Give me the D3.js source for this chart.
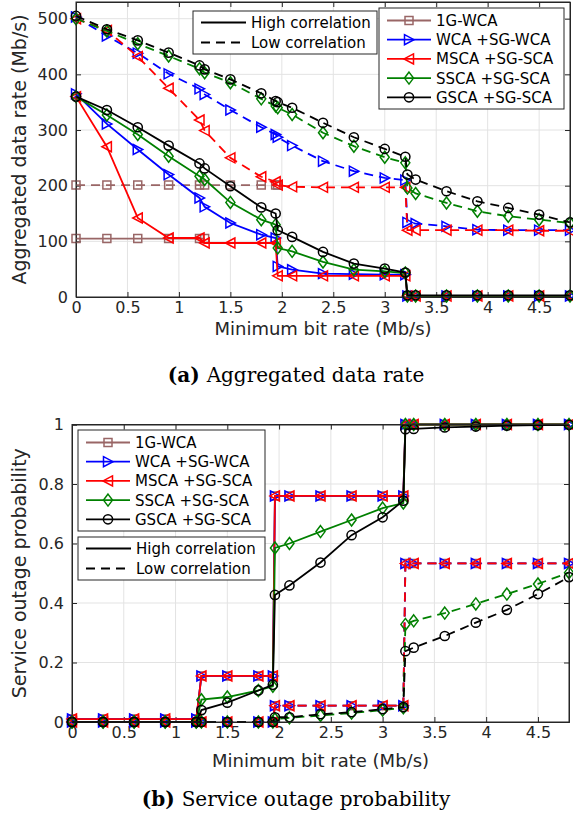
<!DOCTYPE html>
<html>
<head>
<meta charset="utf-8">
<script src="https://cdn.jsdelivr.net/npm/d3@7"></script>
<style>
    body { margin: 0; background: #fff; }
    svg { display: block; font-family: "DejaVu Sans", sans-serif; }
</style>
</head>
<body>
<div id="chart"></div>
<script>
// 横轴：最低速率 (Mb/s)，两张图共用
var bitRate = [0, 0.3, 0.6, 0.9, 1.2, 1.25, 1.5, 1.8, 1.94, 1.96, 2.1, 2.4, 2.7, 3.0, 3.2, 3.22, 3.3, 3.6, 3.9, 4.2, 4.5, 4.8];

var seriesNames = ["1G-WCA", "WCA +SG-WCA", "MSCA +SG-SCA", "SSCA +SG-SCA", "GSCA +SG-SCA"];
var styleNames = ["High correlation", "Low correlation"];

// (a) 聚合速率 - 高相关
var rateHigh1G   = [105, 105, 105, 105, 105, 105, null, null, null, null, null, null, null, null, null, null, null, null, null, null, null, null];
var rateHighWCA  = [365, 311, 265, 220, 178, 162, 133, 112, 106, 55, 49, 42, 41, 40, 40, 2, 2, 2, 2, 2, 2, 2];
var rateHighMSCA = [360, 270, 142, 106, 106, 97, 97, 97, 97, 38, 38, 38, 38, 38, 38, 2, 2, 2, 2, 2, 2, 2];
var rateHighSSCA = [360, 327, 292, 253, 217, 211, 170, 139, 130, 88, 82, 63, 49, 46, 43, 2, 2, 2, 2, 2, 2, 2];
var rateHighGSCA = [360, 336, 305, 272, 240, 231, 199, 161, 150, 120, 108, 81, 60, 51, 44, 3, 3, 3, 3, 3, 3, 3];
// (a) 聚合速率 - 低相关
var rateLow1G   = [201, 201, 201, 201, 201, 201, 201, 201, 201, 201, null, null, null, null, null, null, null, null, null, null, null, null];
var rateLowWCA  = [503, 469, 438, 401, 374, 364, 336, 305, 292, 287, 272, 244, 226, 214, 210, 134, 132, 127, 121, 120, 120, 120];
var rateLowMSCA = [500, 479, 432, 375, 318, 299, 250, 216, 207, 201, 198, 197, 197, 197, 197, 120, 120, 120, 120, 120, 119, 119];
var rateLowSSCA = [500, 478, 455, 433, 410, 403, 385, 356, 343, 340, 328, 295, 271, 251, 241, 196, 186, 169, 154, 145, 139, 133];
var rateLowGSCA = [505, 481, 461, 439, 416, 409, 391, 366, 352, 350, 340, 313, 287, 266, 252, 220, 211, 190, 172, 160, 148, 134];

// (b) 中断概率 - 高相关
var outHigh1G   = [0.01, 0.01, 0.01, 0.01, 0.01, 0.155, 0.155, 0.155, 0.155, 0.76, 0.76, 0.76, 0.76, 0.76, 0.76, 1, 1, 1, 1, 1, 1, 1];
var outHighWCA  = [0.01, 0.01, 0.01, 0.01, 0.01, 0.155, 0.155, 0.155, 0.155, 0.76, 0.76, 0.76, 0.76, 0.76, 0.76, 1, 1, 1, 1, 1, 1, 1];
var outHighMSCA = [0.01, 0.01, 0.01, 0.01, 0.01, 0.155, 0.155, 0.155, 0.155, 0.76, 0.76, 0.76, 0.76, 0.76, 0.76, 1, 1, 1, 1, 1, 1, 1];
var outHighSSCA = [0, 0, 0, 0, 0, 0.075, 0.084, 0.106, 0.12, 0.585, 0.6, 0.64, 0.679, 0.719, 0.736, 1, 1, 1, 1, 1, 1, 1];
var outHighGSCA = [0, 0, 0, 0, 0, 0.04, 0.065, 0.106, 0.125, 0.427, 0.459, 0.536, 0.628, 0.688, 0.744, 0.984, 0.985, 0.99, 0.993, 0.996, 0.998, 0.999];
// (b) 中断概率 - 低相关
var outLow1G   = [0, 0, 0, 0, 0, 0, 0, 0, 0, 0.055, 0.055, 0.055, 0.055, 0.055, 0.055, 0.533, 0.533, 0.533, 0.533, 0.533, 0.533, 0.533];
var outLowWCA  = [0, 0, 0, 0, 0, 0, 0, 0, 0, 0.055, 0.055, 0.055, 0.055, 0.055, 0.055, 0.533, 0.533, 0.533, 0.533, 0.533, 0.533, 0.533];
var outLowMSCA = [0, 0, 0, 0, 0, 0, 0, 0, 0, 0.055, 0.055, 0.055, 0.055, 0.055, 0.055, 0.533, 0.533, 0.533, 0.533, 0.533, 0.533, 0.533];
var outLowSSCA = [0, 0, 0, 0, 0, 0, 0, 0, 0, 0.01, 0.014, 0.022, 0.03, 0.04, 0.048, 0.328, 0.34, 0.366, 0.397, 0.43, 0.464, 0.502];
var outLowGSCA = [0, 0, 0, 0, 0, 0, 0, 0, 0, 0.016, 0.016, 0.026, 0.033, 0.043, 0.05, 0.238, 0.25, 0.289, 0.334, 0.377, 0.43, 0.487];

var xTicks = [0, 0.5, 1, 1.5, 2, 2.5, 3, 3.5, 4, 4.5];
var rateTicks = [0, 100, 200, 300, 400, 500];
var outTicks = [0, 0.2, 0.4, 0.6, 0.8, 1];

var colors = ["#996666", "#0000ff", "#ff0000", "#008000", "#000000"];
var markers = ["square", "triRight", "triLeft", "diamond", "circle"];

var svg = d3.select("#chart").append("svg")
    .attr("width", 573)
    .attr("height", 814);

//标记符号路径
function markerPath(type) {
    if (type == "square") return "M-4,-4h8v8h-8Z";
    if (type == "triRight") return "M-4.5,-5L5,0L-4.5,5Z";
    if (type == "triLeft") return "M4.5,-5L-5,0L4.5,5Z";
    if (type == "diamond") return "M0,-6L4.5,0L0,6L-4.5,0Z";
    return d3.symbol().type(d3.symbolCircle).size(Math.PI * 4.6 * 4.6)();
}

function drawMarker(g, type, x, y, color) {
    g.append("path")
        .attr("d", markerPath(type))
        .attr("transform", "translate(" + x + "," + y + ")")
        .attr("fill", "none")
        .attr("stroke", color)
        .attr("stroke-width", 1.5);
}

//绘制一个子图
function drawPanel(opt) {
    var g = svg.append("g");
    var x = d3.scaleLinear().domain([0, 4.8]).range([opt.left, opt.right]);
    var y = d3.scaleLinear().domain(opt.yDomain).range([opt.bottom, opt.top]);

    //网格
    g.append("g").selectAll("line")
        .data(xTicks.filter(function (d) { return d > 0; }))
        .enter().append("line")
        .attr("x1", function (d) { return x(d); })
        .attr("x2", function (d) { return x(d); })
        .attr("y1", opt.top).attr("y2", opt.bottom)
        .attr("stroke", "#e3e3e3").attr("stroke-width", 1);
    g.append("g").selectAll("line")
        .data(opt.yTicks.filter(function (d) { return d > opt.yDomain[0] && d < opt.yDomain[1]; }))
        .enter().append("line")
        .attr("y1", function (d) { return y(d); })
        .attr("y2", function (d) { return y(d); })
        .attr("x1", opt.left).attr("x2", opt.right)
        .attr("stroke", "#e3e3e3").attr("stroke-width", 1);

    //坐标轴 (刻度朝内)
    var axB = g.append("g").attr("transform", "translate(0," + opt.bottom + ")")
        .call(d3.axisBottom(x).tickValues(xTicks).tickSize(-5).tickPadding(5).tickFormat(d3.format("")));
    var axT = g.append("g").attr("transform", "translate(0," + opt.top + ")")
        .call(d3.axisTop(x).tickValues(xTicks).tickSize(-5).tickFormat(""));
    var axL = g.append("g").attr("transform", "translate(" + opt.left + ",0)")
        .call(d3.axisLeft(y).tickValues(opt.yTicks).tickSize(-5).tickPadding(8).tickFormat(d3.format("")));
    var axR = g.append("g").attr("transform", "translate(" + opt.right + ",0)")
        .call(d3.axisRight(y).tickValues(opt.yTicks).tickSize(-5).tickFormat(""));
    [axB, axT, axL, axR].forEach(function (a) {
        a.select(".domain").attr("stroke", "#262626");
        a.selectAll(".tick line").attr("stroke", "#262626");
        a.selectAll("text").attr("font-size", 16).attr("fill", "#262626")
            .attr("font-family", "DejaVu Sans");
    });

    //折线
    var line = d3.line()
        .defined(function (d) { return d[1] != null; })
        .x(function (d) { return x(d[0]); })
        .y(function (d) { return y(d[1]); });

    for (var i = 0; i < opt.series.length; i++) {
        var pair = [opt.series[i].high, opt.series[i].low];
        for (var k = 0; k < 2; k++) {
            var pts = bitRate.map(function (v, j) { return [v, pair[k][j]]; });
            g.append("path")
                .attr("d", line(pts))
                .attr("fill", "none")
                .attr("stroke", colors[i])
                .attr("stroke-width", 1.8)
                .attr("stroke-dasharray", k == 1 ? "9,6" : null);
            var mg = g.append("g");
            pts.forEach(function (p) {
                if (p[1] == null) return;
                drawMarker(mg, markers[i], x(p[0]), y(p[1]), colors[i]);
            });
        }
    }

    //外框
    g.append("rect")
        .attr("x", opt.left).attr("y", opt.top)
        .attr("width", opt.right - opt.left).attr("height", opt.bottom - opt.top)
        .attr("fill", "none").attr("stroke", "#262626");

    //坐标轴标题
    g.append("text")
        .attr("x", (opt.left + opt.right) / 2)
        .attr("y", opt.xLabelY)
        .attr("text-anchor", "middle")
        .attr("font-size", 18)
        .attr("fill", "#262626")
        .text("Minimum bit rate (Mb/s)");
    g.append("text")
        .attr("transform", "translate(" + opt.yLabelX + "," + ((opt.top + opt.bottom) / 2) + ") rotate(-90)")
        .attr("text-anchor", "middle")
        .attr("font-size", 19)
        .attr("fill", "#262626")
        .text(opt.yLabel);

    //图注
    var cap = g.append("text")
        .attr("x", 296)
        .attr("y", opt.captionY)
        .attr("text-anchor", "middle")
        .attr("font-family", "DejaVu Serif")
        .attr("font-size", 20)
        .attr("fill", "#000");
    cap.append("tspan").attr("font-weight", "bold").text(opt.captionTag + " ");
    cap.append("tspan").text(opt.caption);

    return g;
}

//图例：算法
function drawSeriesLegend(g, bx, by, bw) {
    g.append("rect")
        .attr("x", bx).attr("y", by).attr("width", bw).attr("height", 101)
        .attr("fill", "#fff").attr("stroke", "#262626");
    for (var i = 0; i < seriesNames.length; i++) {
        var ly = by + 12.5 + i * 19.2;
        g.append("line")
            .attr("x1", bx + 8).attr("x2", bx + 52)
            .attr("y1", ly).attr("y2", ly)
            .attr("stroke", colors[i]).attr("stroke-width", 1.8);
        drawMarker(g, markers[i], bx + 30, ly, colors[i]);
        g.append("text")
            .attr("x", bx + 57).attr("y", ly + 5.5)
            .attr("font-size", 15).attr("fill", "#000")
            .text(seriesNames[i]);
    }
}

//图例：线型
function drawStyleLegend(g, bx, by, bw) {
    g.append("rect")
        .attr("x", bx).attr("y", by).attr("width", bw).attr("height", 43)
        .attr("fill", "#fff").attr("stroke", "#262626");
    for (var k = 0; k < 2; k++) {
        var ly = by + 11.5 + k * 20;
        g.append("line")
            .attr("x1", bx + 8).attr("x2", bx + 53)
            .attr("y1", ly).attr("y2", ly)
            .attr("stroke", "#000").attr("stroke-width", 1.8)
            .attr("stroke-dasharray", k == 1 ? "9,6" : null);
        g.append("text")
            .attr("x", bx + 58).attr("y", ly + 5.5)
            .attr("font-size", 15).attr("fill", "#000")
            .text(styleNames[k]);
    }
}

var panelA = drawPanel({
    left: 76, right: 570, top: 2, bottom: 297,
    yDomain: [0, 530], yTicks: rateTicks,
    yLabel: "Aggregated data rate (Mb/s)", yLabelX: 26,
    xLabelY: 335, captionY: 382,
    captionTag: "(a)", caption: "Aggregated data rate",
    series: [
        {high: rateHigh1G, low: rateLow1G},
        {high: rateHighWCA, low: rateLowWCA},
        {high: rateHighMSCA, low: rateLowMSCA},
        {high: rateHighSSCA, low: rateLowSSCA},
        {high: rateHighGSCA, low: rateLowGSCA}
    ]
});
drawStyleLegend(panelA, 193, 11, 184);
drawSeriesLegend(panelA, 379, 8, 185);

var panelB = drawPanel({
    left: 72, right: 569, top: 424.5, bottom: 722,
    yDomain: [0, 1], yTicks: outTicks,
    yLabel: "Service outage probability", yLabelX: 26,
    xLabelY: 767, captionY: 806,
    captionTag: "(b)", caption: "Service outage probability",
    series: [
        {high: outHigh1G, low: outLow1G},
        {high: outHighWCA, low: outLowWCA},
        {high: outHighMSCA, low: outLowMSCA},
        {high: outHighSSCA, low: outLowSSCA},
        {high: outHighGSCA, low: outLowGSCA}
    ]
});
drawSeriesLegend(panelB, 78, 430, 187);
drawStyleLegend(panelB, 78, 537, 187);
</script>
</body>
</html>
